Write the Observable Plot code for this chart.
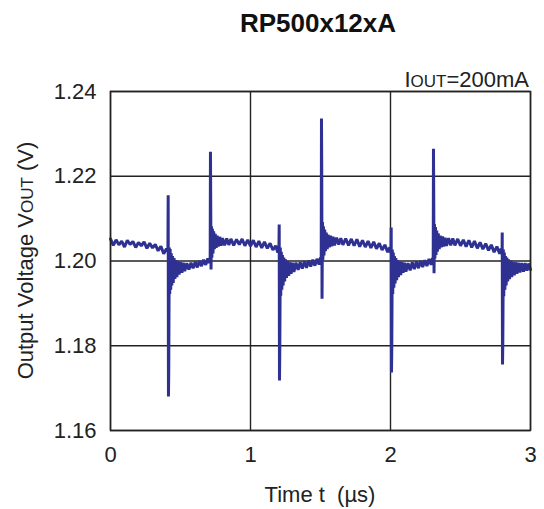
<!DOCTYPE html>
<html>
<head>
<meta charset="utf-8">
<script src="https://cdn.jsdelivr.net/npm/d3@7"></script>
<script src="https://cdn.jsdelivr.net/npm/@observablehq/plot@0.6"></script>
<style>
  html, body { margin: 0; padding: 0; background: #fff; }
  #chart { width: 544px; height: 509px; }
</style>
</head>
<body>
<div id="chart"></div>
<script>
const titleText = "RP500x12xA";
const xTicks = [0, 1, 2, 3];
const yTicks = [1.16, 1.18, 1.20, 1.22, 1.24];

// Waveform (time in µs, voltage in V)
const timeUs = [
  0.00,0.02,0.04,0.06,0.08,0.10,0.12,0.14,0.16,0.18,0.20,0.22,0.24,0.26,0.28,0.30,0.32,0.34,0.36,0.38,0.40,
  0.410,0.412,0.414,0.416,0.418,0.420,0.423,0.426,0.430,0.434,0.438,0.443,0.448,0.454,0.46,0.467,0.474,0.482,0.49,0.50,0.51,0.52,0.53,0.545,0.56,0.575,0.59,0.605,0.62,0.635,0.65,0.665,0.68,0.695,0.705,0.712,
  0.714,0.716,0.718,0.721,0.724,0.728,0.732,0.737,0.742,0.748,0.755,0.762,0.77,0.78,0.79,0.80,0.815,0.83,0.845,0.86,0.88,0.90,0.92,0.94,0.96,0.98,1.00,1.02,1.04,1.06,1.08,1.10,1.12,1.14,1.16,1.18,1.195,1.203,
  1.205,1.207,1.209,1.211,1.213,1.216,1.22,1.224,1.228,1.233,1.238,1.244,1.25,1.257,1.265,1.273,1.282,1.29,1.30,1.31,1.325,1.34,1.355,1.37,1.385,1.40,1.415,1.43,1.445,1.46,1.475,1.49,1.50,1.505,
  1.507,1.509,1.511,1.514,1.517,1.521,1.525,1.53,1.535,1.541,1.548,1.555,1.563,1.572,1.58,1.59,1.60,1.615,1.63,1.645,1.66,1.68,1.70,1.72,1.74,1.76,1.78,1.80,1.82,1.84,1.86,1.88,1.90,1.92,1.94,1.96,1.98,1.995,2.003,
  2.005,2.007,2.009,2.011,2.013,2.016,2.02,2.024,2.028,2.033,2.038,2.044,2.05,2.057,2.065,2.073,2.082,2.09,2.10,2.11,2.125,2.14,2.155,2.17,2.185,2.20,2.215,2.23,2.245,2.26,2.275,2.29,2.30,2.305,
  2.307,2.309,2.311,2.314,2.317,2.321,2.325,2.33,2.335,2.341,2.348,2.355,2.363,2.372,2.38,2.39,2.40,2.415,2.43,2.445,2.46,2.48,2.50,2.52,2.54,2.56,2.58,2.60,2.62,2.64,2.66,2.68,2.70,2.72,2.74,2.76,2.78,2.79,2.797,
  2.798,2.800,2.802,2.804,2.806,2.809,2.813,2.817,2.821,2.826,2.831,2.837,2.843,2.85,2.858,2.866,2.875,2.884,2.893,2.903,2.913,2.925,2.937,2.95,2.962,2.975,2.987,3.0
];
const voutV = [
  1.2052,1.2037,1.2050,1.2038,1.2047,1.2033,1.2049,1.2039,1.2046,1.2032,1.2044,1.2036,1.2045,1.2030,1.2042,1.2031,1.2039,1.2024,1.2035,1.2017,1.2029,
  1.2022,1.2155,1.1680,1.1740,1.1900,1.2032,1.1922,1.2028,1.1932,1.2018,1.1942,1.2012,1.1948,1.2007,1.1958,1.2002,1.1962,1.1999,1.1968,1.1997,1.1972,1.1996,1.1976,1.1995,1.1980,1.1996,1.1983,1.1998,1.1985,1.2000,1.1988,1.2003,1.1991,1.2006,1.1995,1.2009,
  1.2258,1.2130,1.1980,1.2082,1.2008,1.2076,1.2018,1.2070,1.2028,1.2064,1.2031,1.2060,1.2034,1.2057,1.2036,1.2054,1.2037,1.2053,1.2038,1.2052,1.2037,1.2051,1.2039,1.2052,1.2036,1.2050,1.2035,1.2049,1.2033,1.2047,1.2031,1.2045,1.2030,1.2042,1.2026,1.2036,1.2020,1.2031,
  1.2086,1.1718,1.1780,1.1900,1.2032,1.1918,1.2022,1.1932,1.2014,1.1942,1.2008,1.1952,1.2004,1.1960,1.2000,1.1965,1.1997,1.1970,1.1996,1.1974,1.1996,1.1979,1.1997,1.1982,1.1999,1.1984,1.2001,1.1987,1.2003,1.1989,1.2005,1.1992,1.2008,1.1996,
  1.2336,1.2200,1.1911,1.2092,1.2003,1.2082,1.2013,1.2074,1.2023,1.2067,1.2028,1.2062,1.2032,1.2060,1.2035,1.2057,1.2037,1.2055,1.2039,1.2054,1.2038,1.2053,1.2037,1.2052,1.2036,1.2051,1.2034,1.2049,1.2033,1.2047,1.2031,1.2045,1.2029,1.2042,1.2026,1.2038,1.2021,1.2032,1.2019,
  1.2079,1.1737,1.1790,1.1914,1.2027,1.1922,1.2020,1.1937,1.2012,1.1947,1.2007,1.1955,1.2002,1.1962,1.1999,1.1967,1.1997,1.1972,1.1996,1.1975,1.1995,1.1978,1.1997,1.1981,1.1999,1.1983,1.2000,1.1986,1.2002,1.1988,1.2005,1.1991,1.2007,1.1995,
  1.2265,1.2140,1.1971,1.2087,1.2006,1.2080,1.2014,1.2072,1.2022,1.2065,1.2028,1.2060,1.2032,1.2058,1.2034,1.2055,1.2036,1.2054,1.2037,1.2053,1.2037,1.2052,1.2036,1.2050,1.2034,1.2049,1.2032,1.2047,1.2030,1.2044,1.2028,1.2041,1.2025,1.2038,1.2021,1.2034,1.2017,1.2029,1.2016,
  1.2067,1.1756,1.1800,1.1910,1.2027,1.1917,1.2020,1.1932,1.2012,1.1942,1.2008,1.1952,1.2004,1.1957,1.2001,1.1962,1.1998,1.1966,1.1997,1.1970,1.1996,1.1973,1.1995,1.1975,1.1995,1.1977,1.1994,1.1980
];

const data = timeUs.map((t, i) => ({t, v: voutV[i]}));

const W = 544, H = 509;
const mL = 110, mR = 14, mT = 91, mB = 79;
const FONT = "'Liberation Sans', Arial, Helvetica, sans-serif";

const svgEl = Plot.plot({
  width: W,
  height: H,
  marginLeft: mL,
  marginRight: mR,
  marginTop: mT,
  marginBottom: mB,
  style: {fontFamily: FONT, fontSize: "22px", color: "#222", background: "#fff"},
  x: {domain: [0, 3]},
  y: {domain: [1.16, 1.24]},
  marks: [
    Plot.gridX(xTicks, {stroke: "#222", strokeOpacity: 1, strokeWidth: 1.4}),
    Plot.gridY(yTicks, {stroke: "#222", strokeOpacity: 1, strokeWidth: 1.4}),
    Plot.line(data, {x: "t", y: "v", stroke: "#2E3192", strokeWidth: 3, strokeLinejoin: "miter"}),
    Plot.frame({stroke: "#222", strokeWidth: 1.5}),
    Plot.axisX(xTicks, {tickSize: 0, tickPadding: 16, fontSize: 22, label: null, tickFormat: d3.format("d")}),
    Plot.axisY(yTicks, {tickSize: 0, tickPadding: 14, fontSize: 22, label: null, tickFormat: d3.format(".2f")})
  ]
});

const s = d3.select(svgEl);
const cx = (mL + W - mR) / 2;
const cy = (mT + H - mB) / 2;

// Title
s.append("text")
  .attr("x", cx - 2).attr("y", 32)
  .attr("text-anchor", "middle")
  .attr("font-family", FONT).attr("font-weight", "bold").attr("font-size", 26)
  .attr("fill", "#111")
  .text(titleText);

// Annotation IOUT=200mA
const ann = s.append("text")
  .attr("x", W - mR - 1).attr("y", 87)
  .attr("text-anchor", "end")
  .attr("font-family", FONT).attr("font-size", 22).attr("fill", "#222");
ann.append("tspan").text("I");
ann.append("tspan").attr("font-size", 17).text("OUT");
ann.append("tspan").text("=200mA");

// X axis label
s.append("text")
  .attr("x", cx).attr("y", 502)
  .attr("text-anchor", "middle")
  .attr("font-family", FONT).attr("font-size", 22).attr("fill", "#222")
  .text("Time t  (\u00B5s)");

// Y axis label
const yl = s.append("text")
  .attr("transform", `translate(33,${cy}) rotate(-90)`)
  .attr("text-anchor", "middle")
  .attr("font-family", FONT).attr("font-size", 22).attr("fill", "#222");
yl.append("tspan").text("Output Voltage V");
yl.append("tspan").attr("font-size", 17).text("OUT");
yl.append("tspan").text(" (V)");

document.getElementById("chart").appendChild(svgEl);
</script>
</body>
</html>
